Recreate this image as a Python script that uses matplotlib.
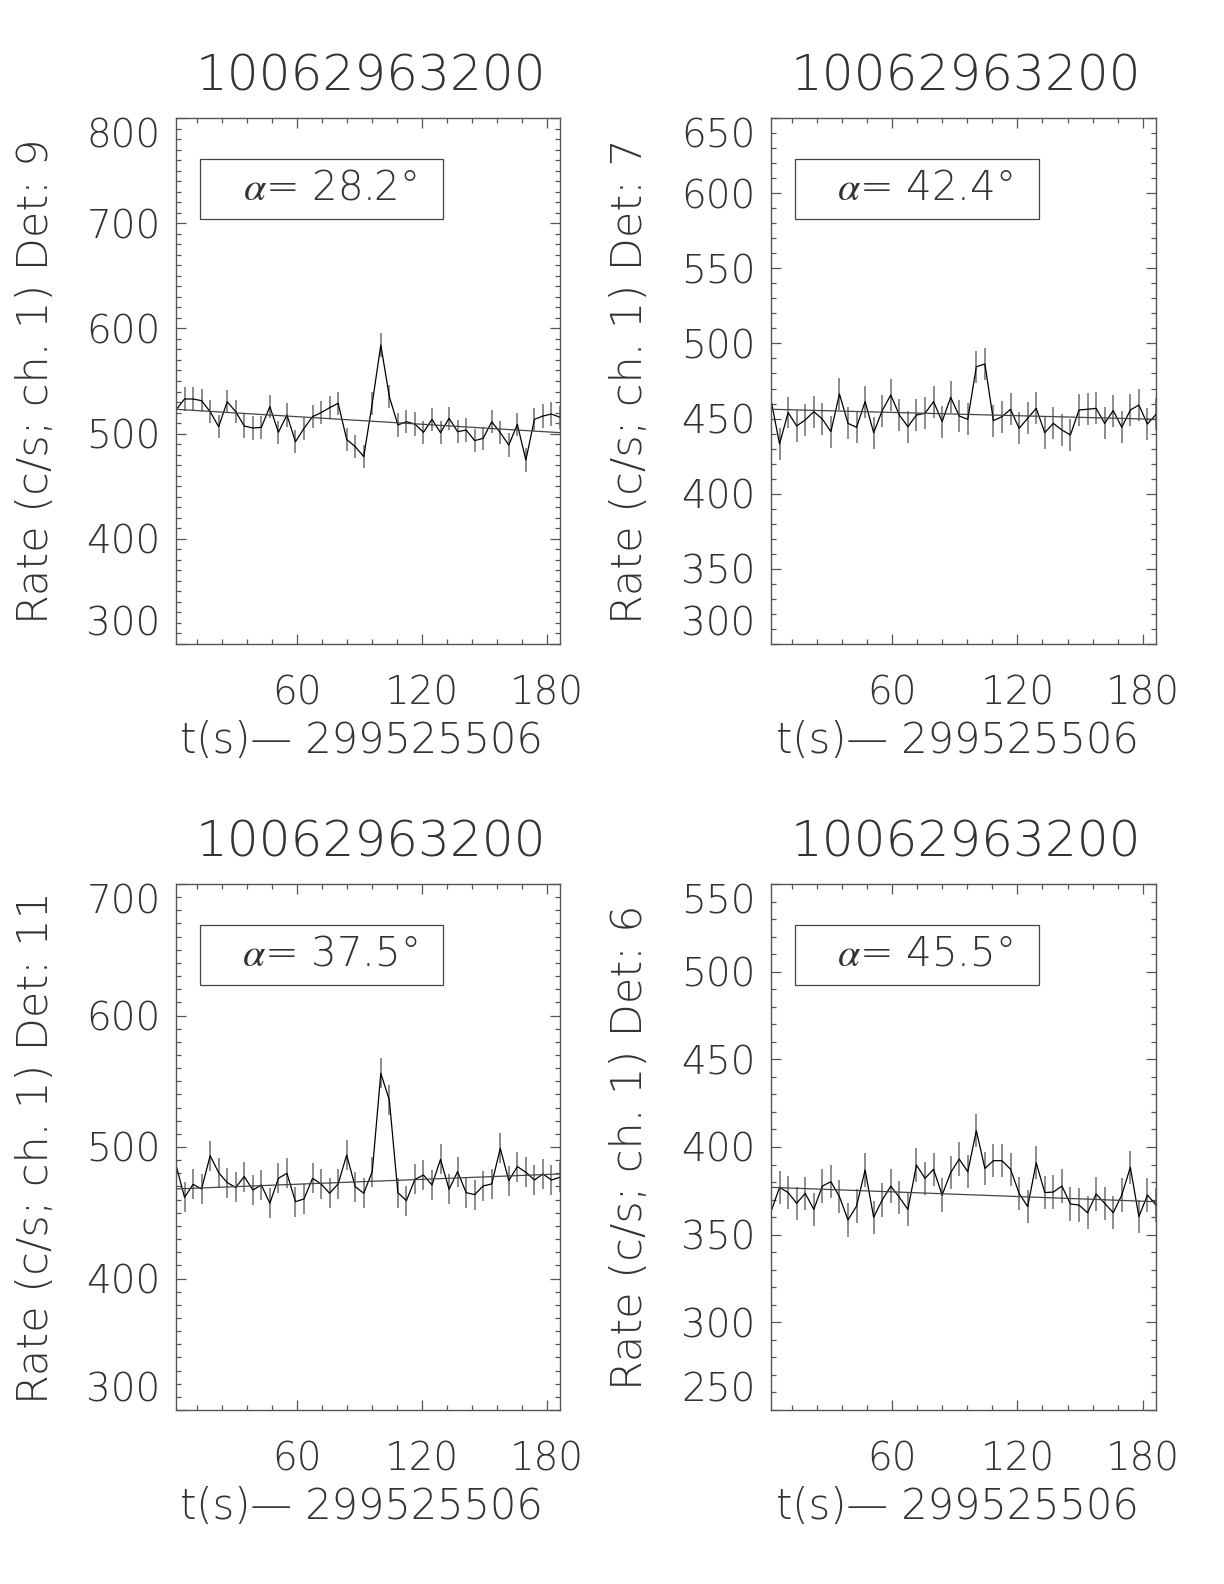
import matplotlib
matplotlib.use("Agg")
import matplotlib.pyplot as plt
from matplotlib.ticker import MultipleLocator
from matplotlib.patches import Rectangle
import numpy as np

# ---------------------------
# datos
t0 = 2.048
dt = 4.096
n_bins = 46
tiempo = t0 + dt * np.arange(n_bins)

titulo = "10062963200"
xlabel = "t(s)\u2014 299525506"

detectores = ["9", "7", "11", "6"]
angulos = ["28.2", "42.4", "37.5", "45.5"]

tasa_det9 = [522.4, 532.9, 532.9, 531.3, 520.8, 506.6, 530.3, 520.8, 507.2, 505.3,
             505.9, 525.6, 501.2, 517.7, 492.3, 505.0, 516.1, 519.9, 524.6, 528.8,
             494.5, 487.6, 478.1, 528.8, 584.2, 535.1, 508.2, 511.3, 509.1, 501.2,
             513.5, 500.9, 514.5, 501.8, 503.4, 493.3, 495.5, 511.3, 500.9, 489.1,
             508.8, 474.9, 513.5, 516.7, 518.6, 515.5]
tasa_det7 = [462.4, 433.1, 454.0, 445.1, 449.1, 454.6, 449.7, 441.3, 466.4, 446.8,
             444.2, 461.3, 440.6, 455.3, 465.7, 452.4, 444.6, 452.4, 453.5, 461.3,
             448.0, 464.1, 451.7, 449.5, 484.5, 486.3, 448.6, 451.3, 456.2, 443.5,
             450.2, 456.8, 440.6, 446.8, 442.4, 439.1, 455.7, 456.2, 456.8, 446.8,
             455.3, 444.2, 455.7, 459.0, 446.4, 452.8]
tasa_det11 = [486.3, 461.7, 471.6, 468.1, 493.4, 480.5, 472.9, 469.3, 477.5, 467.3,
              471.1, 457.2, 476.2, 480.0, 458.4, 460.5, 476.2, 471.9, 464.8, 471.9,
              493.9, 469.9, 464.8, 481.3, 556.0, 535.8, 465.3, 459.2, 475.4, 478.7,
              471.1, 490.6, 467.8, 481.3, 465.3, 463.8, 470.4, 471.9, 499.0, 474.4,
              485.1, 480.8, 474.9, 479.5, 474.9, 477.0]
tasa_det6 = [363.1, 377.0, 374.0, 367.9, 373.6, 364.4, 377.7, 380.2, 371.7, 358.4,
             366.3, 386.9, 359.9, 369.8, 377.7, 371.3, 364.4, 389.7, 382.1, 387.3,
             372.6, 385.4, 393.1, 385.9, 409.3, 387.8, 392.2, 392.2, 387.3, 373.6,
             366.0, 391.0, 374.0, 374.3, 377.7, 367.5, 366.9, 362.5, 373.2, 367.9,
             362.5, 372.6, 388.4, 360.3, 372.6, 366.9]
tasas = [tasa_det9, tasa_det7, tasa_det11, tasa_det6]

# error (media altura de las barras) y fondo ajustado (inicio, fin)
errores = [11.0, 10.6, 11.4, 9.5]
fondo_inicio = [523.1, 456.2, 468.1, 377.0]
fondo_fin = [500.9, 449.5, 479.5, 368.8]

# ejes y
rangos_y = [(300, 800), (300, 650), (300, 700), (250, 550)]
paso_y = [100, 50, 100, 50]
xticks = [60, 120, 180]

# ---------------------------
# estilo
plt.rcParams["font.family"] = ["DejaVu Sans"]
plt.rcParams["mathtext.fontset"] = "stix"
color_txt = "#333333"
color_eje = "#555555"

fig = plt.figure(figsize=(12.24, 15.84), dpi=100)
W, H = 1224.0, 1584.0
cajas = [(176, 118, 560, 644), (771, 118, 1156, 644),
         (176, 884, 560, 1410), (771, 884, 1156, 1410)]

for i in range(4):
    x0, y0, x1, y1 = cajas[i]
    ax = fig.add_axes([x0 / W, 1 - y1 / H, (x1 - x0) / W, (y1 - y0) / H])

    ax.errorbar(tiempo, tasas[i], yerr=errores[i], fmt="none",
                ecolor="#6e6e6e", elinewidth=1.1, capsize=0)
    ax.plot(tiempo, tasas[i], color="black", lw=0.9)
    ax.plot([tiempo[0], tiempo[-1]], [fondo_inicio[i], fondo_fin[i]],
            color="#444444", lw=0.9)

    ax.set_xlim(tiempo[0], tiempo[-1])
    ymin, ymax = rangos_y[i]
    ax.set_ylim(ymin, ymax)
    ax.set_xticks(xticks)
    ax.xaxis.set_minor_locator(MultipleLocator(12))
    ax.set_yticks(np.arange(ymin, ymax + 1, paso_y[i]))
    ax.yaxis.set_minor_locator(MultipleLocator(10))

    ax.tick_params(which="both", direction="in", top=True, right=True,
                   colors=color_eje, labelcolor=color_txt, labelsize=28)
    ax.tick_params(which="major", length=7, width=0.9)
    ax.tick_params(which="minor", length=3.5, width=0.9)
    ax.tick_params(axis="x", pad=22)
    ax.tick_params(axis="y", pad=11)
    for lab in ax.get_xticklabels() + ax.get_yticklabels():
        lab.set_fontweight("light")

    # las etiquetas extremas quedan dentro de la caja
    ticks_y = ax.yaxis.get_major_ticks()
    ticks_y[0].label1.set_va("bottom")
    ticks_y[-1].label1.set_va("top")

    for s in ax.spines.values():
        s.set_color(color_eje)
        s.set_linewidth(1.0)

    ax.text(0.507, 1.078, titulo, transform=ax.transAxes, ha="center",
            va="center", fontsize=36, color=color_txt, fontweight="light")
    ax.text(0.484, -0.184, xlabel, transform=ax.transAxes, ha="center",
            va="center", fontsize=30, color=color_txt, fontweight="light")
    ax.text(-0.367, 0.5, "Rate (c/s; ch. 1) Det: " + detectores[i],
            transform=ax.transAxes, rotation=90, ha="center", va="center",
            fontsize=31, color=color_txt, fontweight="light")

    ax.add_patch(Rectangle((0.063, 0.808), 0.633, 0.114, transform=ax.transAxes,
                           fill=False, edgecolor="#444444", lw=0.9))
    ax.text(0.40, 0.866, r"$\alpha$= " + angulos[i] + "°", transform=ax.transAxes,
            ha="center", va="center", fontsize=29, color=color_txt,
            fontweight="light")

fig.savefig("out.png", dpi=100)
